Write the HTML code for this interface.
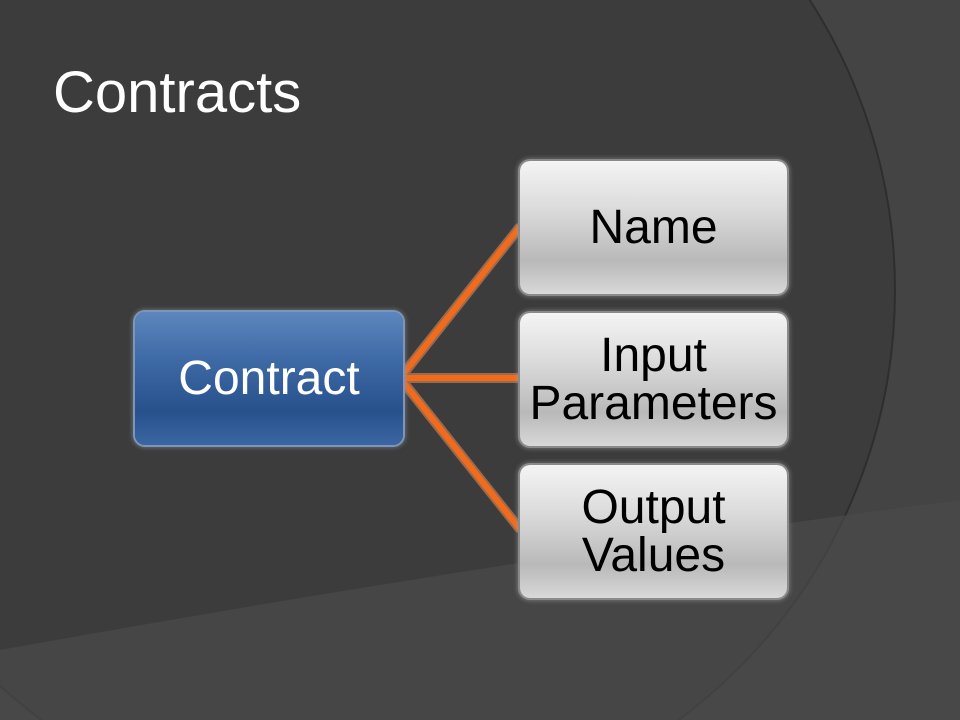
<!DOCTYPE html>
<html><head><style>
html,body{margin:0;width:960px;height:720px;overflow:hidden;background:#3b3b3b;font-family:"Liberation Sans",sans-serif}
.bg{position:absolute;left:0;top:0}
.t{position:absolute;left:53px;top:60px;color:#fff;font-size:58px;line-height:66px}
.b{position:absolute;left:520px;width:267px;height:133px;border-radius:10px;
background:linear-gradient(#f4f4f4 0%,#dcdcdc 35%,#b9b9b9 75%,#d8d8d8 100%);
box-shadow:0 0 0 2px #8a8a8a,0 0 4px 3px rgba(160,160,160,.5);
display:flex;align-items:center;justify-content:center;text-align:center;color:#000;font-size:48px;line-height:48px}
.c{position:absolute;left:135px;top:312px;width:268px;height:133px;border-radius:10px;
background:linear-gradient(#5d86bd 0%,#3e6aa6 35%,#28518c 75%,#3a66a3 100%);
box-shadow:0 0 0 2px #7d95b6,0 0 4px 3px rgba(140,150,170,.5);
display:flex;align-items:center;justify-content:center;color:#fff;font-size:48px}
</style></head><body>
<svg class="bg" width="960" height="720">
<rect width="960" height="720" fill="#444"/>
<circle cx="360" cy="290" r="535" fill="#3c3c3c" stroke="#2e2e2e" stroke-width="2"/>
<path d="M0,650 Q500,560 960,500 L960,720 L0,720Z" fill="#4a4a4a" opacity="0.7"/>
<g stroke-linecap="round" fill="none">
<g stroke="#f59a60" stroke-width="10" opacity="0.5">
<path d="M400,378 L519,228 M400,378 L519,378 M400,378 L519,528"/></g>
<g stroke="#f26b1d" stroke-width="6">
<path d="M400,378 L519,228 M400,378 L519,378 M400,378 L519,528"/></g>
</g>
</svg>
<div class="t">Contracts</div>
<div class="c">Contract</div>
<div class="b" style="top:161px">Name</div>
<div class="b" style="top:313px">Input<br>Parameters</div>
<div class="b" style="top:465px">Output<br>Values</div>
</body></html>
